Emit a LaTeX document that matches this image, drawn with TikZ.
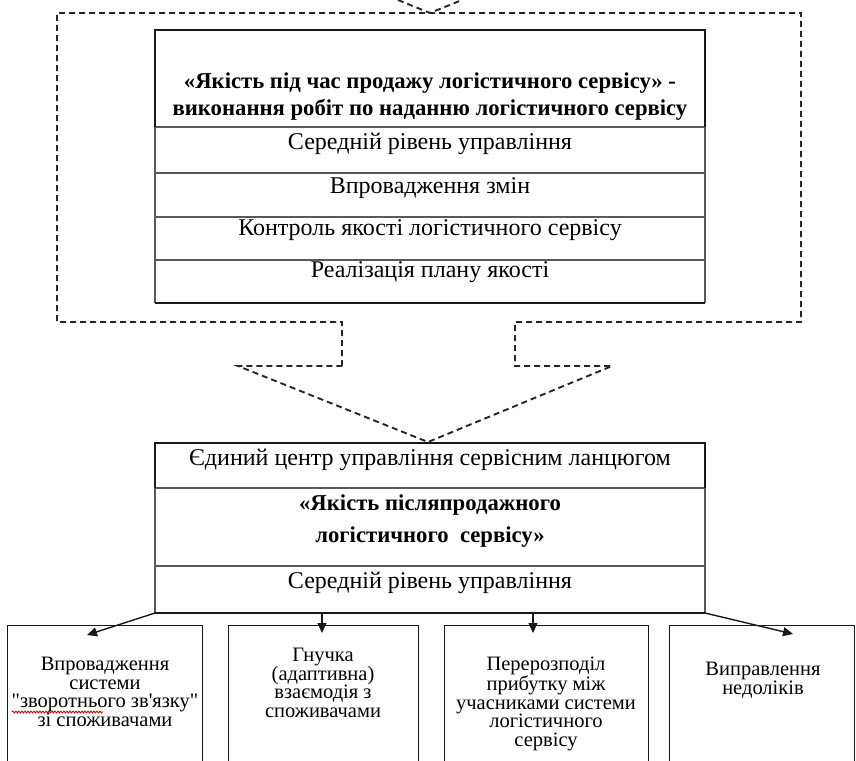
\documentclass[tikz,border=0pt]{standalone}
\usepackage{fontspec}
\setmainfont{Liberation Serif}
\usetikzlibrary{arrows.meta,decorations.pathmorphing}
\newcommand\plainsq{\XeTeXglyph\XeTeXcharglyph"27\relax}
\newcommand\plaindq{\XeTeXglyph\XeTeXcharglyph"22\relax}
\begin{document}
\begin{tikzpicture}[x=1pt,y=-1pt,
  dline/.style={line width=1.9pt, dash pattern=on 6pt off 4pt, black!85},
  sepline/.style={line width=1.3pt, black!65},
  heavyline/.style={line width=2.3pt, black!90},
  boxline/.style={line width=1.4pt, black!90},
  rowtext/.style={font=\fontsize{24}{28}\selectfont, anchor=base, inner sep=0pt},
  titletext/.style={font=\bfseries\fontsize{22.7}{27}\selectfont, align=center, inner sep=0pt},
  boxtext/.style={font=\fontsize{20.5}{18.7}\selectfont, align=center, inner sep=0pt},
  arr/.style={-{Triangle[length=10pt,width=9pt]}, line width=1.4pt, black!90}
]
\useasboundingbox (0,0) rectangle (856,760);

% ---- dashed block arrow (upper group frame) ----
\draw[dline] (342,366) -- (342,322) -- (57,322) -- (57,13) -- (801,13) -- (801,322)
  -- (515,322) -- (515,366) -- (612,366) -- (428,442) -- (238,366) -- cycle;
% tip of the incoming arrow from above
\draw[dline] (398,0) -- (430,13) -- (462,0);

% ---- upper table ----
\coordinate (tNW) at (155,30);
\coordinate (tNE) at (705,30);
\coordinate (tSW) at (155,303);
\coordinate (tSE) at (705,303);
\draw[sepline] (155,127) -- (155,303);
\draw[sepline] (705,127) -- (705,303);
\draw[sepline] (155,127) -- (705,127);
\draw[sepline] (155,173) -- (705,173);
\draw[sepline] (155,217) -- (705,217);
\draw[sepline] (155,260) -- (705,260);
\draw[heavyline] (155,127) -- (tNW) -- (tNE) -- (705,127);
\draw[heavyline] (tSW) -- (tSE);

\node[titletext] (t0) at (430,97) {«Якість під час продажу логістичного сервісу» -\\виконання робіт по наданню логістичного сервісу};
\node[rowtext] (t1) at (430,149) {Середній рівень управління};
\node[rowtext] (t2) at (430,193) {Впровадження змін};
\node[rowtext] (t3) at (430,235) {Контроль якості логістичного сервісу};
\node[rowtext] (t4) at (430,277) {Реалізація плану якості};

% ---- lower table ----
\coordinate (cSW) at (155,613);
\coordinate (cSE) at (705,613);
\draw[sepline] (155,488) -- (155,613);
\draw[sepline] (705,488) -- (705,613);
\draw[sepline] (155,488) -- (705,488);
\draw[sepline] (155,566) -- (705,566);
\draw[heavyline] (155,488) -- (155,443) -- (705,443) -- (705,488);
\draw[heavyline] (cSW) -- (cSE);

\node[rowtext] (c1) at (430,465) {Єдиний центр управління сервісним ланцюгом};
\node[titletext, font=\bfseries\fontsize{22.7}{32}\selectfont] (c2) at (430,521) {«Якість післяпродажного\\логістичного\ \ сервісу»};
\node[rowtext] (c3) at (430,588) {Середній рівень управління};

% ---- bottom boxes ----
\node[draw, boxline, minimum width=195pt, minimum height=160pt, anchor=north west, inner sep=0pt] (b1) at (7,625) {};
\node[draw, boxline, minimum width=190pt, minimum height=160pt, anchor=north west, inner sep=0pt] (b2) at (228,625) {};
\node[draw, boxline, minimum width=204pt, minimum height=160pt, anchor=north west, inner sep=0pt] (b3) at (444,625) {};
\node[draw, boxline, minimum width=185pt, minimum height=160pt, anchor=north west, inner sep=0pt] (b4) at (669,625) {};

\node[boxtext] (b1t) at (105,692) {Впровадження\\системи\\\plaindq зворотнього зв\plainsq язку\plaindq\\зі споживачами};
\node[boxtext] (b2t) at (323,683) {Гнучка\\(адаптивна)\\взаємодія з\\споживачами};
\node[boxtext] (b3t) at (546,704) {Перерозподіл\\прибутку між\\учасниками системи\\логістичного\\сервісу};
\node[boxtext] (b4t) at (763,680) {Виправлення\\недоліків};

% spell-check underline
\draw[red!80!black, line width=0.8pt, decorate, decoration={snake, amplitude=1pt, segment length=3pt}] (12,712) -- (103,712);

% ---- arrows ----
\coordinate (a1) at (87,635);
\coordinate (a2s) at (322,613);
\coordinate (a2) at (322,633);
\coordinate (a3s) at (533,613);
\coordinate (a3) at (533,633);
\coordinate (a4) at (793,634);
\draw[arr] (cSW) -- (a1);
\draw[arr] (a2s) -- (a2);
\draw[arr] (a3s) -- (a3);
\draw[arr] (cSE) -- (a4);
\end{tikzpicture}
\end{document}
